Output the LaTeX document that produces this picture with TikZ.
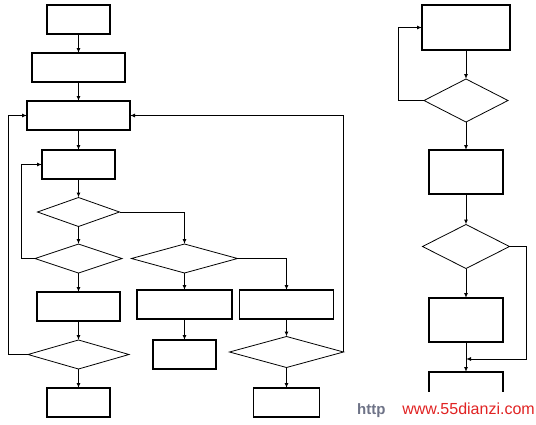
\documentclass[tikz,border=0pt]{standalone}
\usepackage{fontspec}
\newfontfamily\wmfont{Liberation Sans}
\usetikzlibrary{shapes.geometric,arrows.meta}
\definecolor{wmred}{RGB}{225,35,35}
\definecolor{wmgray}{RGB}{110,115,135}
\begin{document}
\begin{tikzpicture}[x=1pt,y=-1pt,
  box/.style={draw,rectangle,line width=1.1pt,inner sep=0pt,outer sep=0pt},
  dia/.style={draw,diamond,line width=0.8pt,inner sep=0pt,outer sep=0pt},
  arr/.style={line width=1pt,-{Latex[length=5pt,width=4pt]}}]
\path[use as bounding box] (0,0) rectangle (536,424);
% left column
\node[box,minimum width=63pt,minimum height=29pt] (b1) at (78.5,19.5) {};
\node[box,minimum width=93pt,minimum height=29pt] (b2) at (78.5,67.5) {};
\node[box,minimum width=103pt,minimum height=29pt] (b3) at (78.5,115.5) {};
\node[box,minimum width=73pt,minimum height=29pt] (b4) at (78.5,164.5) {};
\node[dia,minimum width=82pt,minimum height=29pt] (d1) at (78.5,212) {};
\node[dia,minimum width=87pt,minimum height=29pt] (d2) at (78.5,258.5) {};
\node[box,minimum width=83pt,minimum height=29pt] (b5) at (78.5,306.5) {};
\node[dia,minimum width=101pt,minimum height=29pt] (d3) at (78.5,354.5) {};
\node[box,minimum width=63pt,minimum height=29pt] (b6) at (78.5,402.5) {};
% middle column
\node[dia,minimum width=106pt,minimum height=29pt] (d4) at (184.5,258.5) {};
\node[box,minimum width=95pt,minimum height=29pt] (b7) at (184.5,304.5) {};
\node[box,minimum width=63pt,minimum height=29pt] (b8) at (184.5,354.5) {};
% third column
\node[box,minimum width=94pt,minimum height=29pt] (b9) at (286.5,304.5) {};
\node[dia,minimum width=114pt,minimum height=31pt] (d5) at (286.5,352) {};
\node[box,minimum width=66pt,minimum height=29pt] (b10) at (286.5,402.5) {};
% right column
\node[box,minimum width=88pt,minimum height=45pt] (r1) at (466,27.5) {};
\node[dia,minimum width=84pt,minimum height=43pt] (rd1) at (466,100.5) {};
\node[box,minimum width=74pt,minimum height=44pt] (r2) at (466,172) {};
\node[dia,minimum width=87pt,minimum height=44pt] (rd2) at (466,246.5) {};
\node[box,minimum width=74pt,minimum height=44pt] (r3) at (466,320) {};
\node[box,minimum width=74pt,minimum height=44pt] (r4) at (466,394) {};
\coordinate (m) at (466,359);
% connectors left column
\draw[arr] (b1) -- (b2);
\draw[arr] (b2) -- (b3);
\draw[arr] (b3) -- (b4);
\draw[arr] (b4) -- (d1);
\draw[arr] (d1) -- (d2);
\draw[arr] (d2) -- (b5);
\draw[arr] (b5) -- (d3);
\draw[arr] (d3) -- (b6);
\draw[arr] (d2.west) -- ++(-14,0) |- (b4.west);
\draw[arr] (d3.west) -- ++(-20,0) |- (b3.west);
% middle / third column
\draw[arr] (d1.east) -| (d4.north);
\draw[arr] (d4.east) -| (b9.north);
\draw[arr] (d4) -- (b7);
\draw[arr] (b7) -- (b8);
\draw[arr] (b9) -- (d5);
\draw[arr] (d5) -- (b10);
\draw[arr] (d5.east) |- (b3.east);
% right column
\draw[arr] (r1) -- (rd1);
\draw[arr] (rd1.west) -- ++(-26,0) |- (r1.west);
\draw[arr] (rd1) -- (r2);
\draw[arr] (r2) -- (rd2);
\draw[arr] (rd2) -- (r3);
\draw[arr] (r3) -- (r4);
\draw[arr] (rd2.east) -- ++(17,0) |- (m);
% watermark
\node[anchor=base west,inner sep=0pt,text=wmgray] (http) at (357,414) {\wmfont\fontsize{15}{15}\selectfont\bfseries http};
\node[fill=white,inner sep=0pt,minimum width=141pt,minimum height=34pt,text=wmred] (wm) at (468.5,409) {\wmfont\fontsize{16}{16}\selectfont www.55dianzi.com};
\end{tikzpicture}
\end{document}
